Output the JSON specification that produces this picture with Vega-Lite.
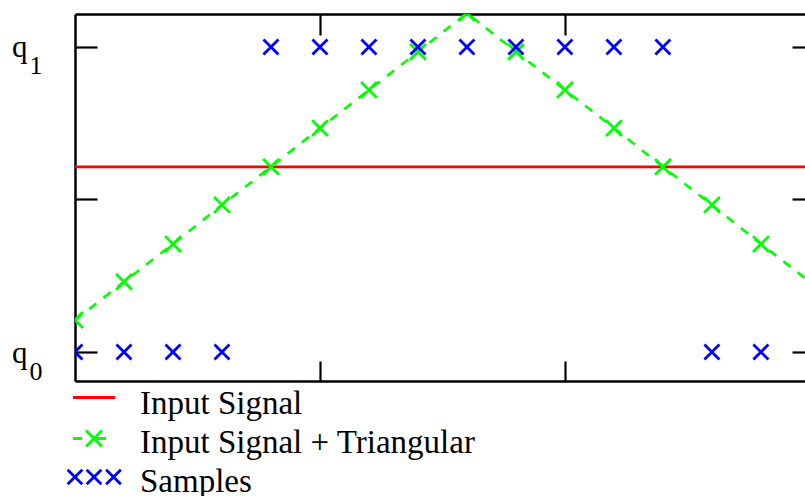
{
  "$schema": "https://vega.github.io/schema/vega-lite/v6.json",
  "width": 730,
  "height": 367,
  "autosize": {"type": "none"},
  "padding": {"left": 75, "top": 14, "right": 0, "bottom": 115},
  "background": "white",
  "config": {
    "view": {"stroke": null},
    "font": "Liberation Serif",
    "axis": {"grid": false, "domainColor": "black", "domainWidth": 2.5, "tickColor": "black", "tickWidth": 2.2, "labelColor": "black", "labelFont": "Liberation Serif"}
  },
  "data": {
    "values": [
      {"series": "Input Signal", "x": 0, "y": 0.607},
      {"series": "Input Signal", "x": 3, "y": 0.607},
      {"series": "Input Signal + Triangular", "x": 0, "y": 0.105},
      {"series": "Input Signal + Triangular", "x": 0.2, "y": 0.23},
      {"series": "Input Signal + Triangular", "x": 0.4, "y": 0.354},
      {"series": "Input Signal + Triangular", "x": 0.6, "y": 0.482},
      {"series": "Input Signal + Triangular", "x": 0.8, "y": 0.607},
      {"series": "Input Signal + Triangular", "x": 1.0, "y": 0.734},
      {"series": "Input Signal + Triangular", "x": 1.2, "y": 0.859},
      {"series": "Input Signal + Triangular", "x": 1.4, "y": 0.984},
      {"series": "Input Signal + Triangular", "x": 1.6, "y": 1.111},
      {"series": "Input Signal + Triangular", "x": 1.8, "y": 0.984},
      {"series": "Input Signal + Triangular", "x": 2.0, "y": 0.859},
      {"series": "Input Signal + Triangular", "x": 2.2, "y": 0.734},
      {"series": "Input Signal + Triangular", "x": 2.4, "y": 0.607},
      {"series": "Input Signal + Triangular", "x": 2.6, "y": 0.482},
      {"series": "Input Signal + Triangular", "x": 2.8, "y": 0.354},
      {"series": "Input Signal + Triangular", "x": 3.0, "y": 0.23},
      {"series": "Samples", "x": 0, "y": 0},
      {"series": "Samples", "x": 0.2, "y": 0},
      {"series": "Samples", "x": 0.4, "y": 0},
      {"series": "Samples", "x": 0.6, "y": 0},
      {"series": "Samples", "x": 0.8, "y": 1},
      {"series": "Samples", "x": 1.0, "y": 1},
      {"series": "Samples", "x": 1.2, "y": 1},
      {"series": "Samples", "x": 1.4, "y": 1},
      {"series": "Samples", "x": 1.6, "y": 1},
      {"series": "Samples", "x": 1.8, "y": 1},
      {"series": "Samples", "x": 2.0, "y": 1},
      {"series": "Samples", "x": 2.2, "y": 1},
      {"series": "Samples", "x": 2.4, "y": 1},
      {"series": "Samples", "x": 2.6, "y": 0},
      {"series": "Samples", "x": 2.8, "y": 0}
    ]
  },
  "resolve": {"axis": {"x": "independent", "y": "independent"}},
  "layer": [
    {
      "transform": [{"filter": "datum.series == 'Input Signal'"}],
      "mark": {"type": "line", "color": "#ff0000", "strokeWidth": 2.6, "clip": true},
      "encoding": {
        "x": {"field": "x", "type": "quantitative", "scale": {"domain": [0, 2.98], "nice": false, "zero": false},
              "axis": {"orient": "bottom", "values": [1, 2], "labels": false, "tickSize": -20, "title": null}},
        "y": {"field": "y", "type": "quantitative", "scale": {"domain": [-0.095, 1.108], "nice": false, "zero": false},
              "axis": {"orient": "left", "values": [0, 0.5, 1], "tickSize": -22, "title": null,
                       "labelExpr": "datum.value == 0.5 ? '' : 'q'", "labelFontSize": 31, "labelAlign": "right",
                       "labelBaseline": "alphabetic", "labelOffset": 10, "labelPadding": 70}}
      }
    },
    {
      "transform": [{"filter": "datum.series == 'Input Signal + Triangular'"}],
      "mark": {"type": "line", "color": "#00ff00", "strokeWidth": 2.6, "strokeDash": [9, 9], "clip": true},
      "encoding": {
        "x": {"field": "x", "type": "quantitative",
              "axis": {"orient": "top", "values": [1, 2], "labels": false, "tickSize": -21, "title": null}},
        "y": {"field": "y", "type": "quantitative",
              "axis": {"orient": "left", "values": [0, 1], "ticks": false, "domain": false, "title": null,
                       "labelExpr": "datum.value == 1 ? '1' : '0'", "labelFontSize": 26, "labelAlign": "left",
                       "labelBaseline": "alphabetic", "labelOffset": 27, "labelPadding": 46}}
      }
    },
    {
      "transform": [{"filter": "datum.series == 'Input Signal + Triangular' && datum.x < 2.9"}],
      "mark": {"type": "point", "shape": "M-1,-1L1,1M-1,1L1,-1", "size": 250, "filled": false, "stroke": "#00ff00", "strokeWidth": 2.8, "opacity": 1, "clip": true},
      "encoding": {
        "x": {"field": "x", "type": "quantitative", "axis": null},
        "y": {"field": "y", "type": "quantitative",
              "axis": {"orient": "right", "values": [0, 0.5, 1], "labels": false, "domain": false, "tickSize": -13, "title": null}}
      }
    },
    {
      "transform": [{"filter": "datum.series == 'Samples'"}],
      "mark": {"type": "point", "shape": "M-1,-1L1,1M-1,1L1,-1", "size": 225, "filled": false, "stroke": "#0000ff", "strokeWidth": 2.8, "opacity": 1, "clip": true},
      "encoding": {
        "x": {"field": "x", "type": "quantitative", "axis": null},
        "y": {"field": "y", "type": "quantitative", "axis": null}
      }
    },
    {
      "mark": {"type": "point", "filled": false, "opacity": 0, "clip": true},
      "encoding": {
        "x": {"field": "x", "type": "quantitative", "axis": null},
        "y": {"field": "y", "type": "quantitative", "axis": null},
        "color": {"field": "series", "type": "nominal",
                  "scale": {"domain": ["Input Signal", "Input Signal + Triangular", "Samples"], "range": ["#ff0000", "#00ff00", "#0000ff"]},
                  "legend": {"title": null, "orient": "none", "legendX": 2.5, "legendY": 373, "padding": 0,
                             "symbolSize": 900, "symbolStrokeWidth": 2.8, "symbolOpacity": 1, "symbolFillColor": "transparent",
                             "labelFont": "Liberation Serif", "labelFontSize": 33, "labelColor": "black", "labelOffset": 29.5,
                             "rowPadding": 3.5, "labelLimit": 600}},
        "shape": {"field": "series", "type": "nominal",
                  "scale": {"domain": ["Input Signal", "Input Signal + Triangular", "Samples"],
                            "range": ["M-1.4,-0.4H1.4",
                                      "M-1.4,-0.3H-0.8M-0.53,-0.83L0.53,0.23M-0.53,0.23L0.53,-0.83M0,-0.3H0.8",
                                      "M-1.76,-0.79L-0.78,0.19M-1.76,0.19L-0.78,-0.79M-0.49,-0.79L0.49,0.19M-0.49,0.19L0.49,-0.79M0.81,-0.79L1.79,0.19M0.81,0.19L1.79,-0.79"]},
                  "legend": {"title": null, "orient": "none", "legendX": 2.5, "legendY": 373, "padding": 0,
                             "symbolSize": 900, "symbolStrokeWidth": 2.8, "symbolOpacity": 1, "symbolFillColor": "transparent",
                             "labelFont": "Liberation Serif", "labelFontSize": 33, "labelColor": "black", "labelOffset": 29.5,
                             "rowPadding": 3.5, "labelLimit": 600}}
      }
    }
  ]
}
